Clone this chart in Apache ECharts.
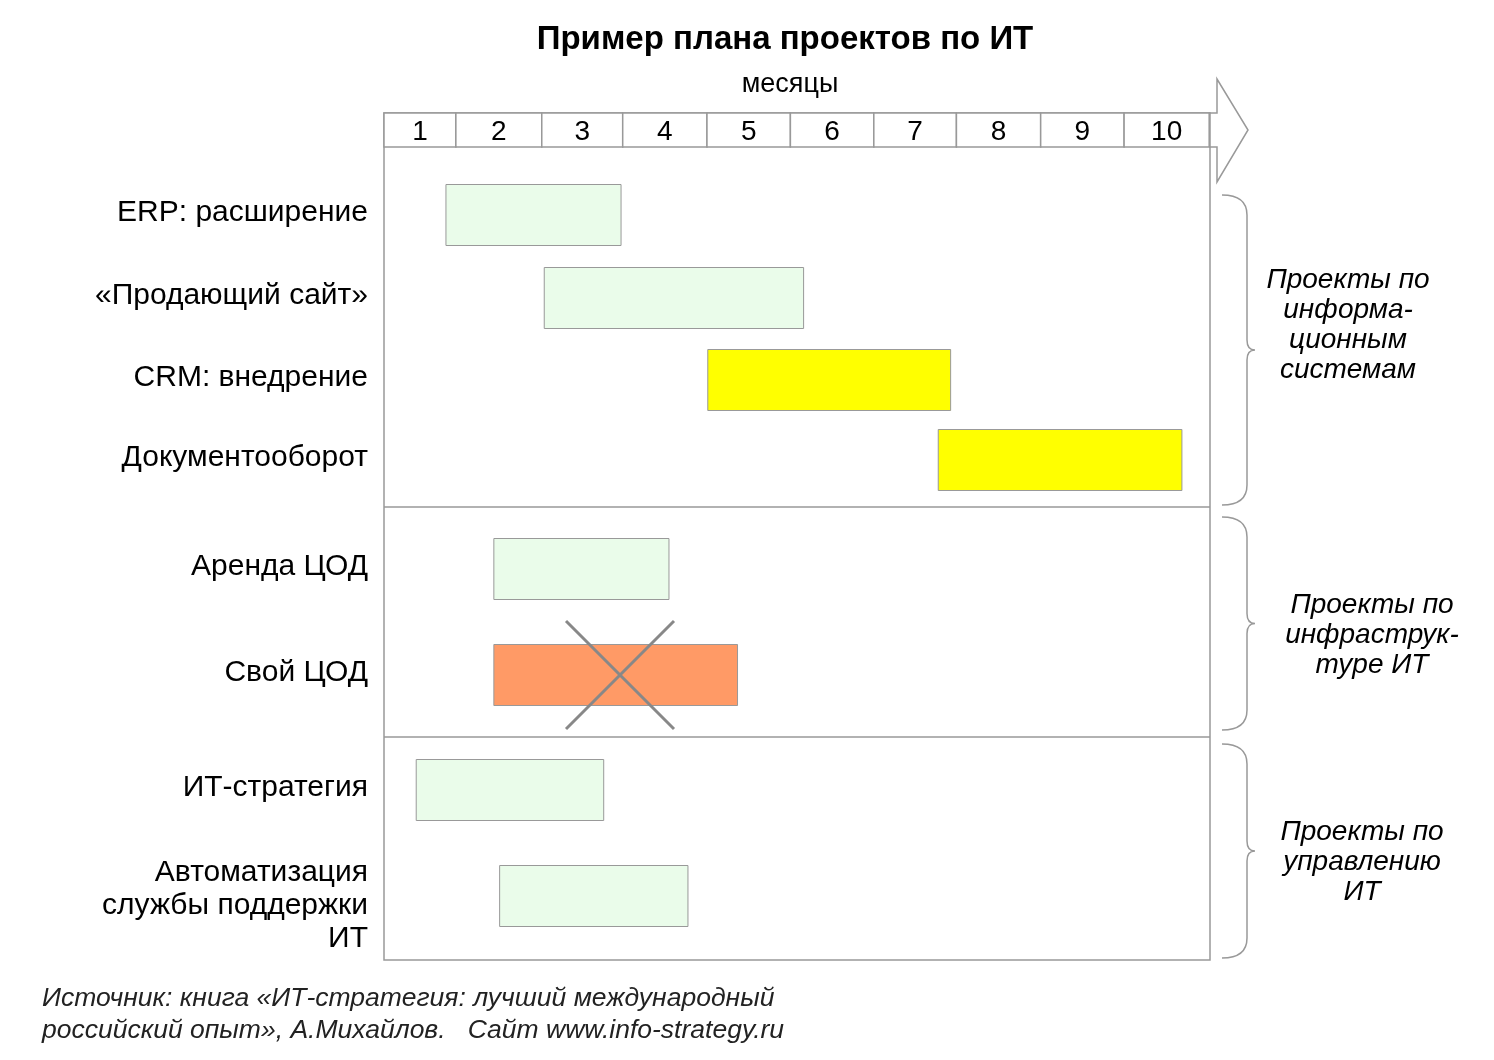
<!DOCTYPE html>
<html><head><meta charset="utf-8">
<script src="https://cdn.jsdelivr.net/npm/echarts@6/dist/echarts.min.js"></script>
<style>body{margin:0;background:#fff}#c{width:1494px;height:1060px}</style>
</head><body><div id="c"></div>
<script>
// projects
const projects = ['ERP: расширение', '«Продающий сайт»', 'CRM: внедрение', 'Документооборот',
  'Аренда ЦОД', 'Свой ЦОД', 'ИТ-стратегия', 'Автоматизация\nслужбы поддержки\nИТ'];
const starts = [0.75, 1.94, 3.92, 6.71, 1.33, 1.33, 0.39, 1.40];
const ends = [2.87, 5.08, 6.86, 9.66, 3.45, 4.28, 2.66, 3.68];
const colors = ['#eafcea', '#eafcea', '#ffff00', '#ffff00', '#eafcea', '#ff9a66', '#eafcea', '#eafcea'];
const cancelled = [false, false, false, false, false, true, false, false];
// month header
const months = ['1', '2', '3', '4', '5', '6', '7', '8', '9', '10'];
const monthEdges = [0, 0.87, 1.91, 2.89, 3.91, 4.92, 5.93, 6.93, 7.95, 8.96, 9.99];
// layout (row centres in y units)
const rowY = [68, 151, 233, 313, 422, 528, 643, 749];
const dividers = [360, 590];
const groups = ['Проекты по\nинформа-\nционным\nсистемам', 'Проекты по\nинфраструк-\nтуре ИТ', 'Проекты по\nуправлению\nИТ'];

const chart = echarts.init(document.getElementById('c'));
const F = 'Liberation Sans, Arial, sans-serif';
const H = 30.5;

function brace(y1, y2) {
  const m = (y1 + y2) / 2, x0 = 1222, x1 = 1247;
  return 'M' + x0 + ',' + y1 + ' Q' + x1 + ',' + y1 + ' ' + x1 + ',' + (y1 + 20) +
    ' L' + x1 + ',' + (m - 10) + ' Q' + x1 + ',' + m + ' ' + (x1 + 8) + ',' + m +
    ' Q' + x1 + ',' + m + ' ' + x1 + ',' + (m + 10) +
    ' L' + x1 + ',' + (y2 - 20) + ' Q' + x1 + ',' + y2 + ' ' + x0 + ',' + y2;
}

const graphic = [
  { type: 'polygon', shape: { points: [[1210, 113], [1217, 113], [1217, 79], [1248, 130], [1217, 182], [1217, 147], [1210, 147]] },
    style: { fill: '#fff', stroke: '#999', lineWidth: 1.5 } },
  { type: 'text', x: 785, y: 40, style: { text: 'Пример плана проектов по ИТ', font: 'bold 33px ' + F, fill: '#000', align: 'center', verticalAlign: 'middle' } },
  { type: 'text', x: 790, y: 85, style: { text: 'месяцы', font: '27px ' + F, fill: '#000', align: 'center', verticalAlign: 'middle' } },
  { type: 'text', x: 42, y: 999, style: { text: 'Источник: книга «ИТ-стратегия: лучший международный', font: 'italic 26.5px ' + F, fill: '#222', verticalAlign: 'middle' } },
  { type: 'text', x: 42, y: 1031, style: { text: 'российский опыт», А.Михайлов.   Сайт www.info-strategy.ru', font: 'italic 26.5px ' + F, fill: '#222', verticalAlign: 'middle' } },
  { type: 'text', x: 1348, y: 325, style: { text: groups[0], font: 'italic 28px ' + F, lineHeight: 30, fill: '#000', align: 'center', verticalAlign: 'middle' } },
  { type: 'text', x: 1372, y: 635, style: { text: groups[1], font: 'italic 28px ' + F, lineHeight: 30, fill: '#000', align: 'center', verticalAlign: 'middle' } },
  { type: 'text', x: 1362, y: 862, style: { text: groups[2], font: 'italic 28px ' + F, lineHeight: 30, fill: '#000', align: 'center', verticalAlign: 'middle' } }
];

chart.setOption({
  animation: false,
  graphic: graphic,
  grid: { left: 384, right: 284, top: 113, bottom: 100, show: true, borderColor: '#999', borderWidth: 1.5 },
  xAxis: { type: 'value', min: 0, max: 10, show: false },
  yAxis: { type: 'value', min: -34, max: 813, inverse: true, show: false },
  series: [
    {
      type: 'custom', clip: false,
      data: months.map((m, i) => [monthEdges[i], monthEdges[i + 1], m]),
      renderItem: (params, api) => {
        const a = api.coord([api.value(0), -34]), b = api.coord([api.value(1), 0]);
        return { type: 'group', children: [
          { type: 'rect', shape: { x: a[0], y: a[1], width: b[0] - a[0], height: b[1] - a[1] }, style: { fill: '#fff', stroke: '#999', lineWidth: 1.5 } },
          { type: 'text', x: (a[0] + b[0]) / 2, y: (a[1] + b[1]) / 2 + 2, style: { text: months[params.dataIndex], font: '28px ' + F, fill: '#000', align: 'center', verticalAlign: 'middle' } }
        ] };
      }
    },
    {
      type: 'custom', clip: false,
      data: dividers.map(d => [d]),
      renderItem: (params, api) => {
        const a = api.coord([0, api.value(0)]), b = api.coord([10, api.value(0)]);
        return { type: 'line', shape: { x1: a[0], y1: a[1], x2: b[0], y2: b[1] }, style: { stroke: '#999', lineWidth: 1.5 } };
      }
    },
    {
      type: 'custom', clip: false,
      data: [[195, 505], [517, 730], [744, 958]],
      renderItem: (params, api) => ({
        type: 'path', shape: { pathData: brace(api.value(0), api.value(1)) },
        style: { fill: null, stroke: '#999', lineWidth: 1.5 }
      })
    },
    {
      type: 'custom', clip: false,
      data: projects.map((p, i) => [starts[i], ends[i], rowY[i]]),
      renderItem: (params, api) => {
        const i = params.dataIndex;
        const a = api.coord([api.value(0), api.value(2) - H]);
        const b = api.coord([api.value(1), api.value(2) + H]);
        const lab = api.coord([0, api.value(2)]);
        const kids = [
          { type: 'rect', shape: { x: a[0], y: a[1], width: b[0] - a[0], height: b[1] - a[1] }, style: { fill: colors[i], stroke: '#999', lineWidth: 1 } },
          { type: 'text', x: lab[0] - 16, y: lab[1] + (i === 7 ? 10 : -2), style: { text: projects[i], font: '30px ' + F, lineHeight: 33, fill: '#000', align: 'right', verticalAlign: 'middle' } }
        ];
        if (cancelled[i]) {
          const cx = 620, cy = (a[1] + b[1]) / 2, r = 54;
          kids.push({ type: 'line', shape: { x1: cx - r, y1: cy - r, x2: cx + r, y2: cy + r }, style: { stroke: '#888', lineWidth: 3 } });
          kids.push({ type: 'line', shape: { x1: cx - r, y1: cy + r, x2: cx + r, y2: cy - r }, style: { stroke: '#888', lineWidth: 3 } });
        }
        return { type: 'group', children: kids };
      }
    }
  ]
});
</script></body></html>
